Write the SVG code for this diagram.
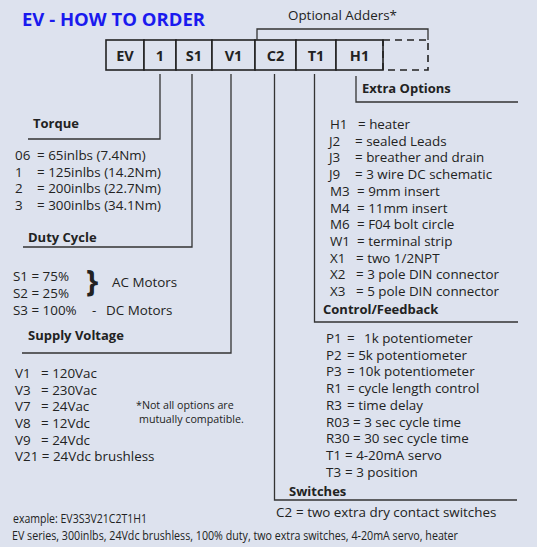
<svg xmlns="http://www.w3.org/2000/svg" width="537" height="547" viewBox="0 0 537 547">
<style>
text{font-family:"Open Sans","Noto Sans","Liberation Sans",sans-serif;fill:#222}
.t{font-size:13.4px}
.h{font-size:13px;font-weight:bold}
.b{font-size:14.5px;font-weight:bold;text-anchor:middle}
.s{font-size:10.7px}
.e{font-size:11.8px}
.box{fill:#dde2ee;stroke:#222;stroke-width:1.6}
.ln{fill:none;stroke:#333;stroke-width:1.3}
</style>
<rect width="537" height="547" fill="#dde2ee"/>
<text x="22" y="26" style="font-size:18.5px;font-weight:bold;fill:#1a1aee">EV - HOW TO ORDER</text>
<text x="288" y="20" class="t">Optional Adders*</text>

<g id="box-ev"><rect class="box" x="106" y="40" width="38" height="30"/><text class="b" x="125" y="61">EV</text></g>
<g id="box-1"><rect class="box" x="144" y="40" width="32" height="30"/><text class="b" x="160" y="61">1</text></g>
<g id="box-s1"><rect class="box" x="176" y="40" width="36" height="30"/><text class="b" x="194" y="61">S1</text></g>
<g id="box-v1"><rect class="box" x="212" y="40" width="43" height="30"/><text class="b" x="233.5" y="61">V1</text></g>
<g id="box-c2"><rect class="box" x="255" y="40" width="41" height="30"/><text class="b" x="275.5" y="61">C2</text></g>
<g id="box-t1"><rect class="box" x="296" y="40" width="40" height="30"/><text class="b" x="316" y="61">T1</text></g>
<g id="box-h1"><rect class="box" x="336" y="40" width="47" height="30"/><text class="b" x="359.5" y="61">H1</text></g>
<g id="box-extra"><rect x="383" y="40" width="45" height="30" fill="none" stroke="#222" stroke-width="1.6" stroke-dasharray="7,5"/></g>

<g id="connectors">
<path class="ln" d="M257,40 V29 H428 V40"/>
<path class="ln" d="M160,74 V139 H28"/>
<path class="ln" d="M192,74 V247 H23"/>
<path class="ln" d="M231,74 V353 H22"/>
<path class="ln" d="M274.5,74 V500 H517"/>
<path class="ln" d="M314.5,74 V322 H518"/>
<path class="ln" d="M356,76 V102 H518"/>
</g>

<g id="torque">
<text x="33" y="128" class="h">Torque</text>
<text class="t" x="15" y="160">06</text><text class="t" x="37" y="160">= 65inlbs (7.4Nm)</text>
<text class="t" x="15" y="176.7">1</text><text class="t" x="37" y="176.7">= 125inlbs (14.2Nm)</text>
<text class="t" x="15" y="193.4">2</text><text class="t" x="37" y="193.4">= 200inlbs (22.7Nm)</text>
<text class="t" x="15" y="210">3</text><text class="t" x="37" y="210">= 300inlbs (34.1Nm)</text>
</g>

<g id="duty">
<text x="28" y="242" class="h">Duty Cycle</text>
<text class="t" x="13" y="281">S1 = 75%</text>
<text class="t" x="13" y="298">S2 = 25%</text>
<text class="t" x="13" y="315">S3 = 100%</text>
<text x="86" y="291.5" style="font-size:31px;font-weight:bold">}</text>
<text class="t" x="112" y="287">AC Motors</text>
<text class="t" x="92" y="315">-</text>
<text class="t" x="106" y="315">DC Motors</text>
</g>

<g id="voltage">
<text x="28" y="340" class="h">Supply Voltage</text>
<text class="t" x="15" y="378">V1</text><text class="t" x="41" y="378">= 120Vac</text>
<text class="t" x="15" y="394.7">V3</text><text class="t" x="41" y="394.7">= 230Vac</text>
<text class="t" x="15" y="411.4">V7</text><text class="t" x="41" y="411.4">= 24Vac</text>
<text class="t" x="15" y="428">V8</text><text class="t" x="41" y="428">= 12Vdc</text>
<text class="t" x="15" y="444.7">V9</text><text class="t" x="41" y="444.7">= 24Vdc</text>
<text class="t" x="15" y="461.4">V21 = 24Vdc brushless</text>
<text class="s" x="136" y="409">*Not all options are</text>
<text class="s" x="139" y="422.5">mutually compatible.</text>
</g>

<g id="extra-options">
<text x="362" y="93" class="h">Extra Options</text>
<text class="t" x="330" y="129">H1</text><text class="t" x="358" y="129">= heater</text>
<text class="t" x="329" y="145.7">J2</text><text class="t" x="355" y="145.7">= sealed Leads</text>
<text class="t" x="329" y="162.4">J3</text><text class="t" x="355" y="162.4">= breather and drain</text>
<text class="t" x="329" y="179.1">J9</text><text class="t" x="355" y="179.1">= 3 wire DC schematic</text>
<text class="t" x="330" y="195.8">M3</text><text class="t" x="357" y="195.8">= 9mm insert</text>
<text class="t" x="330" y="212.5">M4</text><text class="t" x="357" y="212.5">= 11mm insert</text>
<text class="t" x="330" y="229.2">M6</text><text class="t" x="357" y="229.2">= F04 bolt circle</text>
<text class="t" x="330" y="245.9">W1</text><text class="t" x="357" y="245.9">= terminal strip</text>
<text class="t" x="330" y="262.6">X1</text><text class="t" x="356" y="262.6">= two 1/2NPT</text>
<text class="t" x="330" y="279.3">X2</text><text class="t" x="356" y="279.3">= 3 pole DIN connector</text>
<text class="t" x="330" y="296">X3</text><text class="t" x="356" y="296">= 5 pole DIN connector</text>
</g>

<g id="control-feedback">
<text x="323" y="314" class="h">Control/Feedback</text>
<text class="t" x="326" y="343">P1</text><text class="t" x="347" y="343">=</text><text class="t" x="364" y="343">1k potentiometer</text>
<text class="t" x="326" y="359.7">P2</text><text class="t" x="347" y="359.7">= 5k potentiometer</text>
<text class="t" x="326" y="376.4">P3</text><text class="t" x="347" y="376.4">= 10k potentiometer</text>
<text class="t" x="326" y="393.1">R1</text><text class="t" x="347" y="393.1">= cycle length control</text>
<text class="t" x="326" y="409.8">R3</text><text class="t" x="347" y="409.8">= time delay</text>
<text class="t" x="326" y="426.5">R03 = 3 sec cycle time</text>
<text class="t" x="326" y="443.2">R30 = 30 sec cycle time</text>
<text class="t" x="326" y="459.9">T1</text><text class="t" x="345" y="459.9">= 4-20mA servo</text>
<text class="t" x="326" y="476.6">T3</text><text class="t" x="345" y="476.6">= 3 position</text>
</g>

<g id="switches">
<text x="289" y="496" class="h">Switches</text>
<text class="t" x="276" y="517">C2</text><text class="t" x="296" y="517">= two extra dry contact switches</text>
</g>

<g id="example">
<text class="e" x="13" y="522.5" textLength="134" lengthAdjust="spacingAndGlyphs">example: EV3S3V21C2T1H1</text>
<text class="e" x="12" y="539.5" textLength="446" lengthAdjust="spacingAndGlyphs">EV series, 300inlbs, 24Vdc brushless, 100% duty, two extra switches, 4-20mA servo, heater</text>
</g>
</svg>
